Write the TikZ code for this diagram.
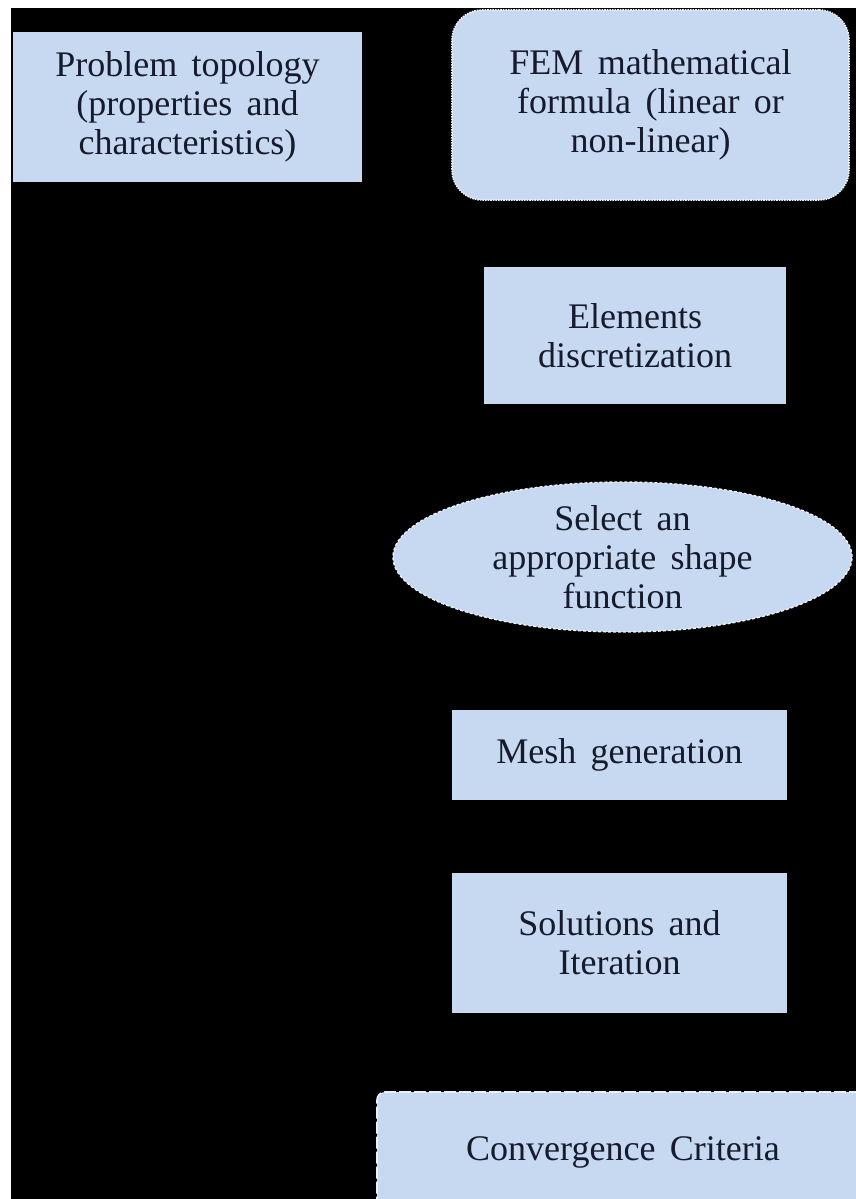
\documentclass[tikz,border=0pt]{standalone}
\usepackage{fontspec}
\setmainfont{Liberation Serif}[WordSpace={1.6,0,0}]
\usepackage{tikz}
\usetikzlibrary{shapes.geometric}

\definecolor{boxblue}{RGB}{198,217,241}
\definecolor{inkblue}{RGB}{22,26,44}
\definecolor{rimwhite}{RGB}{236,240,248}

\begin{document}
\begin{tikzpicture}[x=1pt, y=-1pt,
    every node/.style={font=\fontsize{36}{39}\selectfont, text=inkblue, align=center, inner sep=0pt},
    plainbox/.style={rectangle, fill=boxblue},
    dotbox/.style={rectangle, rounded corners=30pt, fill=boxblue, draw=rimwhite, densely dotted, line width=1.6pt},
    dashoval/.style={ellipse, fill=boxblue, draw=rimwhite, dash pattern=on 3pt off 2pt, line width=1.4pt},
    dashbox/.style={rectangle, rounded corners=8pt, fill=boxblue, draw=rimwhite, dash pattern=on 12pt off 3pt, line width=1.6pt}]
    \useasboundingbox (0,0) rectangle (856,1199);
    \fill[white] (0,0) rectangle (856,1199);
    \fill[black] (11,8) rectangle (856,1199);
    \node[plainbox, minimum width=349, minimum height=150] (topo) at (187.5,107) {Problem topology\\(properties and\\characteristics)};
    \node[dotbox, minimum width=397, minimum height=190] (fem) at (650.5,105) {FEM mathematical\\formula (linear or\\non-linear)};
    \node[plainbox, minimum width=302, minimum height=137] (elem) at (635,335.5) {Elements\\discretization};
    \node[dashoval, minimum width=459, minimum height=150] (shape) at (622.5,557) {Select an\\appropriate shape\\function};
    \node[plainbox, minimum width=335, minimum height=90] (mesh) at (619.5,755) {Mesh generation};
    \node[plainbox, minimum width=335, minimum height=140] (sol) at (619.5,943) {Solutions and\\Iteration};
    \node[dashbox, minimum width=492, minimum height=120] (conv) at (623,1152) {Convergence Criteria};
\end{tikzpicture}
\end{document}
